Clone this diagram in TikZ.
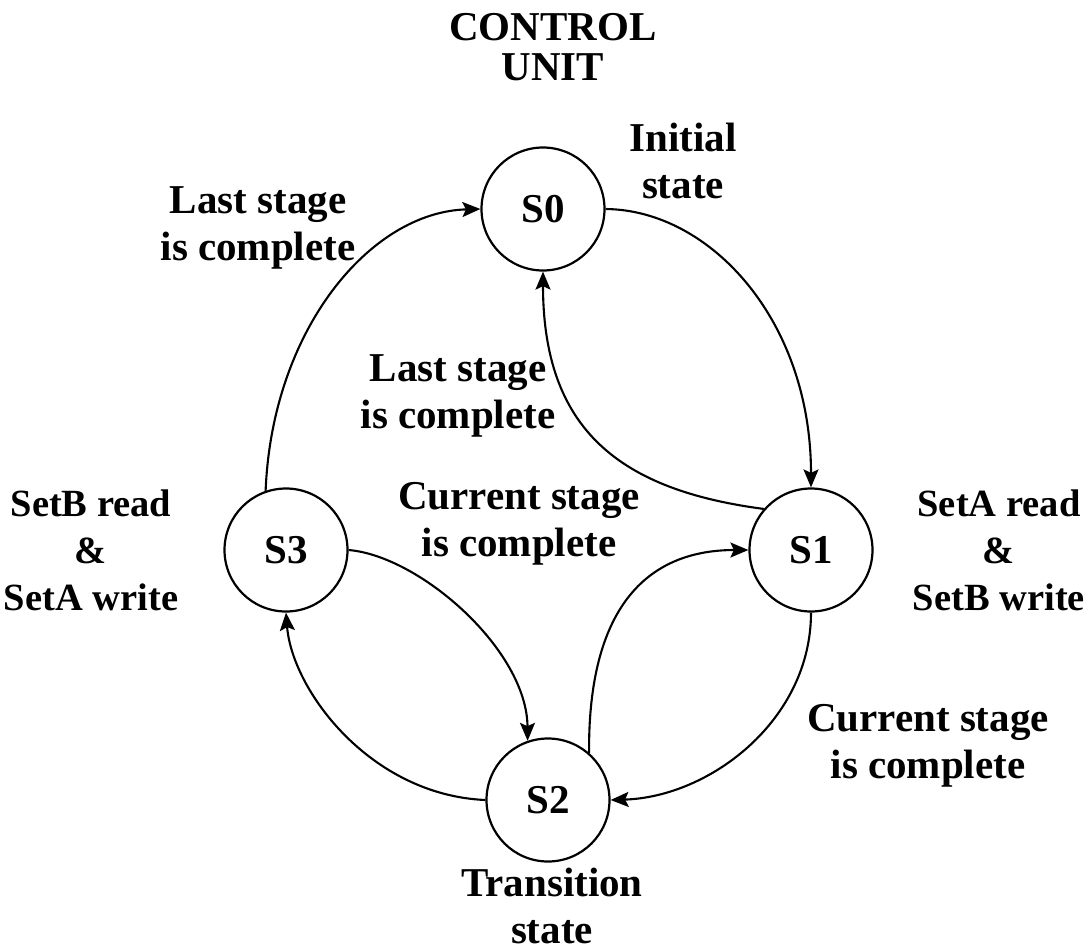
\documentclass[tikz,border=0pt]{standalone}
\usepackage{fontspec}
\setmainfont{Liberation Serif}
\usetikzlibrary{arrows.meta}

% bold serif used for every label and state name
\newcommand{\diagfont}{\fontsize{41}{47}\selectfont\bfseries}
\newcommand{\sidefont}{\fontsize{38.5}{47}\selectfont\bfseries}

\begin{document}
\begin{tikzpicture}[x=1pt,y=-1pt,
  state/.style={circle, draw, line width=2.2pt, minimum size=123pt,
                inner sep=0pt, font=\diagfont},
  lbl/.style={align=center, font=\diagfont, inner sep=0pt},
  side/.style={lbl, font=\sidefont},
  flow/.style={line width=2.1pt,
               -{Stealth[length=18pt,width=15pt,inset=3.5pt]}},
]
\useasboundingbox (0,0) rectangle (1090,951);

% states of the control unit
\node[state] (s0) at (543,209) {S0};
\node[state] (s1) at (811,550) {S1};
\node[state] (s2) at (548,800) {S2};
\node[state] (s3) at (286,550) {S3};

% transitions
\draw[flow] (s3.109) .. controls (272,330) and (370,212) .. (s0.west);
\draw[flow] (s0.east) .. controls (710,210) and (811,320) .. (s1.north);
\draw[flow] (s1.139) .. controls (620,490) and (543,430) .. (s0.south);
\draw[flow] (s3.east) .. controls (420,556) and (527,650) .. (s2.109);
\draw[flow] (s2.49) .. controls (588,610) and (645,550) .. (s1.west);
\draw[flow] (s1.south) .. controls (811,720) and (710,797) .. (s2.east);
\draw[flow] (s2.west) .. controls (370,795) and (292,690) .. (s3.south);

% labels
\node[lbl, font=\fontsize{41}{40}\selectfont\bfseries] (title) at (553,47) {CONTROL\\UNIT};
\node[lbl] (init) at (683,161) {Initial\\state};
\node[lbl] (lastout) at (258,228) {Last stage\\is complete};
\node[lbl] (lastin) at (458,396) {Last stage\\is complete};
\node[side] (setb) at (91,550) {SetB read\\\&\\SetA write};
\node[side] (seta) at (999,550) {SetA read\\\&\\SetB write};
\node[lbl] (curmid) at (519,524) {Current stage\\is complete};
\node[lbl] (curright) at (928,746) {Current stage\\is complete};
\node[lbl] (trans) at (552,906) {Transition\\state};
\end{tikzpicture}
\end{document}
